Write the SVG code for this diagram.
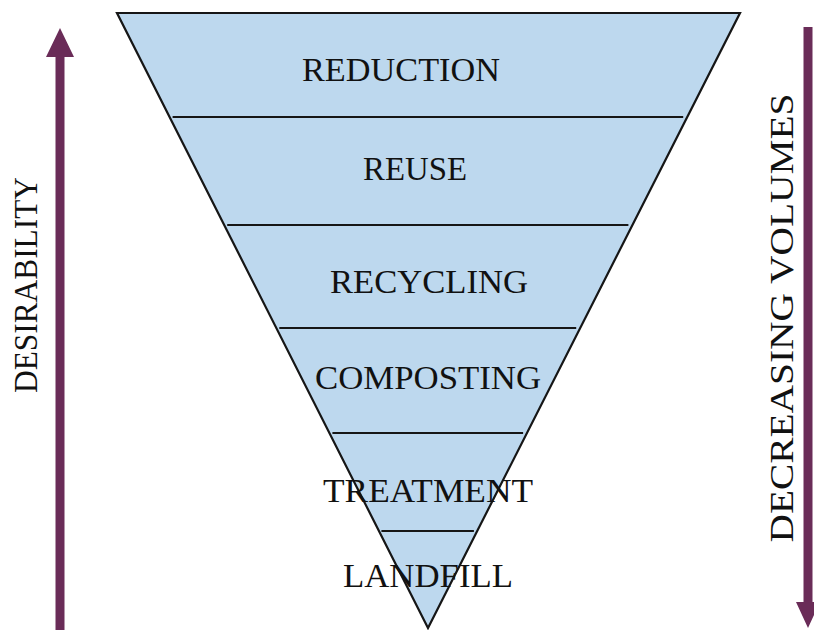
<svg xmlns="http://www.w3.org/2000/svg" width="814" height="630" viewBox="0 0 814 630">
  <style>
    .tier { fill: #bdd8ee; stroke: none; }
    .edge { fill: none; stroke: #161616; stroke-width: 2.2; stroke-linejoin: miter; }
    .label { font-family: "Liberation Serif", "Times New Roman", serif; font-size: 33px; fill: #111111; text-anchor: middle; }
    .side { font-family: "Liberation Serif", "Times New Roman", serif; font-size: 34px; fill: #111111; text-anchor: middle; }
    .arrow { fill: #6a2c58; stroke: none; }
  </style>

  <!-- inverted pyramid body -->
  <g id="pyramid">
    <polygon class="tier" points="117,13 740,13 428,628"/>
  </g>

  <!-- tier dividers and outline -->
  <g id="connectors">
    <line class="edge" x1="172.6" y1="117" x2="683.2" y2="117"/>
    <line class="edge" x1="227.2" y1="225" x2="628.4" y2="225"/>
    <line class="edge" x1="279.3" y1="328" x2="576.2" y2="328"/>
    <line class="edge" x1="332.4" y1="433" x2="523.1" y2="433"/>
    <line class="edge" x1="381.4" y1="531" x2="473.9" y2="531"/>
    <polygon class="edge" points="117,13 740,13 428,628"/>
  </g>

  <g id="reduction"><text class="label" x="401" y="81" textLength="198" lengthAdjust="spacingAndGlyphs">REDUCTION</text></g>
  <g id="reuse"><text class="label" x="415" y="180" textLength="104" lengthAdjust="spacingAndGlyphs">REUSE</text></g>
  <g id="recycling"><text class="label" x="429" y="293" textLength="198" lengthAdjust="spacingAndGlyphs">RECYCLING</text></g>
  <g id="composting"><text class="label" x="428" y="389" textLength="226" lengthAdjust="spacingAndGlyphs">COMPOSTING</text></g>
  <g id="treatment"><text class="label" x="428" y="502" textLength="210" lengthAdjust="spacingAndGlyphs">TREATMENT</text></g>
  <g id="landfill"><text class="label" x="428" y="587" textLength="170" lengthAdjust="spacingAndGlyphs">LANDFILL</text></g>

  <!-- desirability axis, pointing up -->
  <g id="desirability">
    <polygon class="arrow" points="60,28 74,57 64.5,57 64.5,630 55.5,630 55.5,57 46,57"/>
    <text class="side" transform="translate(37,285) rotate(-90)" x="0" y="0" textLength="216" lengthAdjust="spacingAndGlyphs">DESIRABILITY</text>
  </g>

  <!-- volume axis, pointing down -->
  <g id="volumes">
    <polygon class="arrow" points="803.5,27 812.5,27 812.5,602 820,602 808,628 796,602 803.5,602"/>
    <text class="side" transform="translate(793,318) rotate(-90)" x="0" y="0" textLength="449" lengthAdjust="spacingAndGlyphs">DECREASING VOLUMES</text>
  </g>
</svg>
